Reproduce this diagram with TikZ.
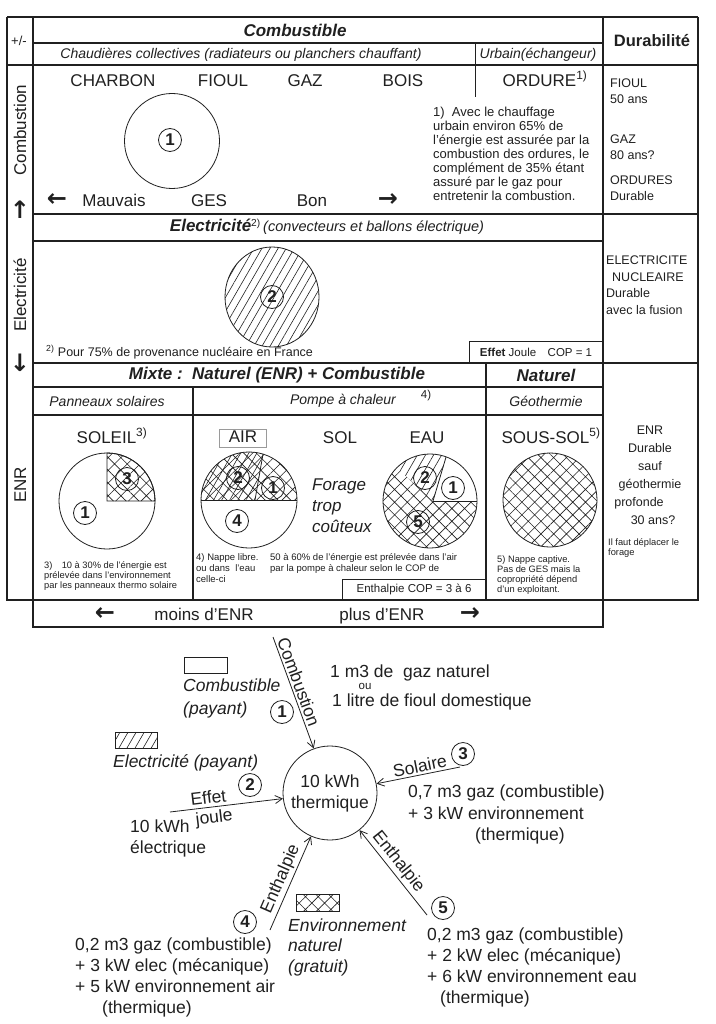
\documentclass[tikz,border=0pt]{standalone}
\usepackage{fontspec}
\setmainfont{Liberation Sans}
\newfontfamily\arrowfont{DejaVu Sans}
\usepackage{xcolor}
\definecolor{ink}{HTML}{202020}
\definecolor{boxgray}{HTML}{9A9A9A}
\usepackage{tikz}
\usetikzlibrary{positioning,arrows.meta,patterns.meta}

\newcommand\bigsz{\fontsize{17}{20}\selectfont}
\newcommand\bottomsz{\fontsize{17.5}{21}\selectfont}
\newcommand\subsz{\fontsize{14}{16}\selectfont}
\newcommand\dursz{\fontsize{12.5}{16.5}\selectfont}
\newcommand\noteasz{\fontsize{13}{14}\selectfont}
\newcommand\notebsz{\fontsize{11.5}{13}\selectfont}
\newcommand\notecsz{\fontsize{9.3}{10}\selectfont}

\begin{document}
\begin{tikzpicture}[x=1pt,y=-1pt,
  every node/.style={inner sep=0pt,text=ink},
  cell/.style={draw=ink,line width=1.3pt},
  thinline/.style={draw=ink,line width=0.8pt},
  bigtxt/.style={font=\bigsz,text height=12.3pt,text depth=0pt},
  headtxt/.style={font=\bigsz\bfseries\itshape},
  subtxt/.style={font=\subsz\itshape},
  durtxt/.style={font=\dursz,align=left,anchor=west},
  fnote/.style={font=\notecsz,align=left,anchor=north west},
  arrowtxt/.style={font=\fontsize{24}{26}\selectfont\arrowfont\bfseries,text height=12.3pt,text depth=0pt},
  numc/.style={circle,draw=ink,line width=0.8pt,minimum size=23pt,font=\bigsz\bfseries},
  hatchfill/.style={pattern={Lines[angle=60,distance=7pt,line width=0.6pt]},pattern color=ink},
  crossfill/.style={pattern={Hatch[angle=45,distance=9pt,line width=0.6pt]},pattern color=ink},
  flow/.style={draw=ink,line width=0.8pt,-{Straight Barb[length=7pt,width=8pt]}},
  onflow/.style={font=\bottomsz,sloped},
]
\path[use as bounding box,fill=white] (0,0) rectangle (715,1024);

% --- table frame
\draw[cell] (7,17) -- (698,17);
\draw[cell] (7,17) -- (7,600) -- (698,600) -- (698,17);
\draw[cell] (33,17) -- (33,627) -- (603,627) -- (603,17);
\draw[cell] (33,43) -- (603,43);
\draw[cell] (7,65) -- (698,65);
\draw[cell] (33,214) -- (698,214);
\draw[cell] (33,241) -- (603,241);
\draw[cell] (33,363) -- (698,363);
\draw[cell] (33,387) -- (603,387);
\draw[cell] (33,415) -- (603,415);
\draw[thinline] (475,43) -- (475,97);
\draw[cell] (193,387) -- (193,600);
\draw[cell] (486,363) -- (486,600);

% --- left column
\node[font=\fontsize{13}{15}\selectfont] (pm) at (19,41) {+/-};
\node[bigtxt,rotate=90] (lcomb) at (20,130) {Combustion};
\node[arrowtxt] (lup) at (20,212) {↑};
\node[bigtxt,rotate=90] (lelec) at (20,295) {Electricité};
\node[arrowtxt] (ldown) at (20,365) {↓};
\node[bigtxt,rotate=90] (lenr) at (20,485) {ENR};

% --- combustion block
\node[headtxt] (combhd) at (295,30) {Combustible};
\node[subtxt] (chaud) at (241,55) {Chaudières collectives (radiateurs ou planchers chauffant)};
\node[subtxt] (urbain) at (538,55) {Urbain(échangeur)};
\node[font=\fontsize{16.5}{18}\selectfont\bfseries] (durab) at (652,41) {Durabilité};

\node[bigtxt] (charbon) at (113,80) {CHARBON};
\node[bigtxt] (fioul) at (223,80) {FIOUL};
\node[bigtxt] (gaz) at (305,80) {GAZ};
\node[bigtxt] (bois) at (403,80) {BOIS};
\node[bigtxt] (ordure) at (545,80) {ORDURE\textsuperscript{1)}};

\draw[thinline] (172,141) circle[radius=47.5];
\node[numc] (numcomb) at (170,140) {1};

\node[arrowtxt] (gesleft) at (57,200) {←};
\node[bigtxt] (mauvais) at (114,200) {Mauvais};
\node[bigtxt] (ges) at (209,200) {GES};
\node[bigtxt] (bon) at (312,200) {Bon};
\node[arrowtxt] (gesright) at (388,200) {→};

\node[font=\noteasz,align=left,anchor=north west] (fnone) at (433,107)
  {1)\ \ Avec le chauffage\\urbain environ 65\% de\\l'énergie est assurée par la\\combustion des ordures, le\\complément de 35\% étant\\assuré par le gaz pour\\entretenir la combustion.};

\node[durtxt] (durfioul) at (610,91) {FIOUL\\50 ans};
\node[durtxt] (durgaz) at (610,147) {GAZ\\80 ans?};
\node[durtxt] (durord) at (610,188) {ORDURES\\Durable};

% --- electricity block
\node[font=\fontsize{14.5}{16}\selectfont] (elechd) at (327,227)
  {{\bigsz\bfseries\itshape Electricité}\textsuperscript{2)}\,{\itshape (convecteurs et ballons électrique)}};
\draw[thinline,hatchfill] (272,297) ellipse[x radius=47,y radius=50];
\node[numc] (numelec) at (272,297) {2};
\node[font=\fontsize{12.5}{14}\selectfont,anchor=west] (fntwo) at (46,352)
  {\textsuperscript{2)} Pour 75\% de provenance nucléaire en France};
\node[draw=ink,line width=0.9pt,minimum width=133pt,minimum height=21pt,
      anchor=south east,font=\notebsz] (joule) at (603,363) {\textbf{Effet} Joule\quad COP = 1};
\node[durtxt] (durelec) at (606,285) {ELECTRICITE\\\hspace*{6pt}NUCLEAIRE\\Durable\\avec la fusion};

% --- ENR block
\node[headtxt] (mixte) at (277,375) {Mixte :\ \ Naturel (ENR) + Combustible};
\node[headtxt] (naturel) at (546,375) {Naturel};
\node[subtxt] (panneaux) at (107,401) {Panneaux solaires};
\node[subtxt] (pompe) at (343,401) {Pompe à chaleur};
\node[font=\notebsz] (pompenote) at (426,396) {4)};
\node[subtxt] (geo) at (546,401) {Géothermie};

\node[bigtxt] (soleil) at (112,437) {SOLEIL\textsuperscript{3)}};
\node[bigtxt,draw=boxgray,line width=0.6pt,minimum width=47pt,minimum height=18pt,text height=12.3pt,text depth=3pt] (air) at (243,438) {AIR};
\node[bigtxt] (sol) at (340,437) {SOL};
\node[bigtxt] (eau) at (427,437) {EAU};
\node[bigtxt] (soussol) at (551,437) {SOUS-SOL\textsuperscript{5)}};

% soleil pie
\draw[thinline,crossfill] (107,501) -- ++(48,0) arc[start angle=0,end angle=-90,radius=48] -- cycle;
\draw[thinline] (107,501) circle[radius=48];
\node[numc] (numsolc) at (127,479) {3};
\node[numc] (numsolb) at (85,513) {1};

% air pie
\path[hatchfill] (255,500) -- (263,454) arc[start angle=-73,end angle=-180,radius=48] -- cycle;
\path[crossfill] (201,500) arc[start angle=180,end angle=360,radius=48] -- cycle;
\draw[thinline] (249,500) circle[radius=48];
\draw[thinline] (201,500) -- (297,500);
\draw[thinline] (255,500) -- (263,454);
\node[numc] (numairel) at (238,478) {2};
\node[numc] (numaircb) at (273,488) {1};
\node[numc] (numairenv) at (237,521) {4};

% eau pie
\path[hatchfill] (433,501) -- (446.1,456.8) arc[start angle=-70,end angle=-135,radius=47] -- cycle;
\path[crossfill] (433,501) -- (396.8,467.8) arc[start angle=-135,end angle=-360,radius=47] -- cycle;
\draw[thinline] (430,501) circle[radius=47];
\draw[thinline] (433,501) -- (446.1,456.8);
\draw[thinline] (433,501) -- (477,501);
\node[numc] (numeauel) at (425,478) {2};
\node[numc] (numeaucb) at (453,488) {1};
\node[numc] (numeauenv) at (418,522) {5};

\node[font=\fontsize{17}{21}\selectfont\itshape,align=left,anchor=west] (forage) at (312,506) {Forage\\trop\\coûteux};

% sous-sol disc
\draw[thinline,crossfill] (550,500) circle[radius=47];

\node[fnote] (fnthree) at (44,561) {3)\quad 10 à 30\% de l'énergie est\\prélevée dans l'environnement\\par les panneaux thermo solaire};
\node[fnote,font=\fontsize{9.5}{11}\selectfont] (fnfoura) at (196,553) {4) Nappe libre.\\ou dans\ \ l'eau\\celle-ci};
\node[fnote,font=\fontsize{9.5}{11}\selectfont] (fnfourb) at (270,553) {50 à 60\% de l'énergie est prélevée dans l'air\\par la pompe à chaleur selon le COP de};
\node[draw=ink,line width=0.9pt,minimum width=143pt,minimum height=20pt,
      anchor=south east,font=\notebsz] (enth) at (486,600) {Enthalpie COP = 3 à 6};
\node[fnote] (fnfive) at (497,556) {5) Nappe captive.\\Pas de GES mais la\\copropriété dépend\\d'un exploitant.};

\node[font=\fontsize{12.5}{18}\selectfont,align=center] (durenr) at (650,475)
  {ENR\\Durable\\sauf\\géothermie\\profonde\rule{22pt}{0pt}\\\rule{6pt}{0pt}30 ans?};
\node[font=\notecsz,align=left,anchor=west] (durforage) at (608,548) {Il faut déplacer le\\forage};

% --- bottom row of table
\node[arrowtxt] (enrleft) at (105,614) {←};
\node[bigtxt] (moins) at (204,614) {moins d'ENR};
\node[bigtxt] (plus) at (382,614) {plus d'ENR};
\node[arrowtxt] (enrright) at (470,614) {→};

% --- flow diagram
\node[circle,draw=ink,line width=0.8pt,minimum size=94pt,align=center,font=\bottomsz] (heat) at (330,793) {10 kWh\\thermique};

\coordinate (srccomb) at (273,637);
\coordinate (srcelec) at (170,812);
\coordinate (srcsol) at (460,767);
\coordinate (srcair) at (270,930);
\coordinate (srceau) at (427,915);

\draw[flow] (srccomb) -- node[onflow,above=2pt,pos=0.43] (lblcomb) {Combustion} (heat);
\draw[flow] (srcelec) -- node[onflow,above=3pt,pos=0.35] (lbleffet) {Effet}
                         node[onflow,below=3pt,pos=0.38] (lbljoule) {joule} (heat);
\draw[flow] (srcsol) -- node[onflow,above=2pt,pos=0.46] (lblsol) {Solaire} (heat);
\draw[flow] (srcair) -- node[onflow,above=2pt,pos=0.5] (lblair) {Enthalpie} (heat);
\draw[flow] (srceau) -- node[onflow,above=2pt,pos=0.55] (lbleau) {Enthalpie} (heat);

\node[numc] (flowone) at (282,712) {1};
\node[numc] (flowtwo) at (250,785) {2};
\node[numc] (flowthree) at (463,754) {3};
\node[numc] (flowfour) at (245,922) {4};
\node[numc] (flowfive) at (443,908) {5};

% legend
\node[draw=ink,line width=0.6pt,minimum width=43pt,minimum height=16pt] (legcomb) at (206,665) {};
\node[font=\fontsize{17.5}{23}\selectfont\itshape,align=left,anchor=west] (legcombtxt) at (183,698) {Combustible\\(payant)};
\node[draw=ink,line width=0.6pt,minimum width=42pt,minimum height=16pt,hatchfill] (legelec) at (136,740) {};
\node[font=\bottomsz\itshape,anchor=west] (legelectxt) at (113,763) {Electricité (payant)};
\node[draw=ink,line width=0.6pt,minimum width=43pt,minimum height=17pt,crossfill] (legenv) at (318,903) {};
\node[font=\fontsize{17.5}{20.5}\selectfont\itshape,align=left,anchor=west] (legenvtxt) at (288,947) {Environnement\\naturel\\(gratuit)};

% quantities
\node[font=\bottomsz,anchor=west] (gasa) at (330,673) {1 m3 de\ \ gaz naturel};
\node[font=\notebsz] (gasou) at (365,686) {ou};
\node[font=\bottomsz,anchor=west] (gasb) at (332,702) {1 litre de fioul domestique};

\node[font=\bottomsz,align=left,anchor=north west] (kwhelec) at (130,820) {10 kWh\\électrique};
\node[font=\fontsize{17.5}{21.5}\selectfont,align=left,anchor=north west] (qtysol) at (408,785)
  {0,7 m3 gaz (combustible)\\+ 3 kW environnement\\\hspace*{67pt}(thermique)};
\node[font=\bottomsz,align=left,anchor=north west] (qtyair) at (75,938)
  {0,2 m3 gaz (combustible)\\+ 3 kW elec (mécanique)\\+ 5 kW environnement air\\\hspace*{27pt}(thermique)};
\node[font=\bottomsz,align=left,anchor=north west] (qtyeau) at (427,928)
  {0,2 m3 gaz (combustible)\\+ 2 kW elec (mécanique)\\+ 6 kW environnement eau\\\hspace*{13pt}(thermique)};

\end{tikzpicture}
\end{document}
